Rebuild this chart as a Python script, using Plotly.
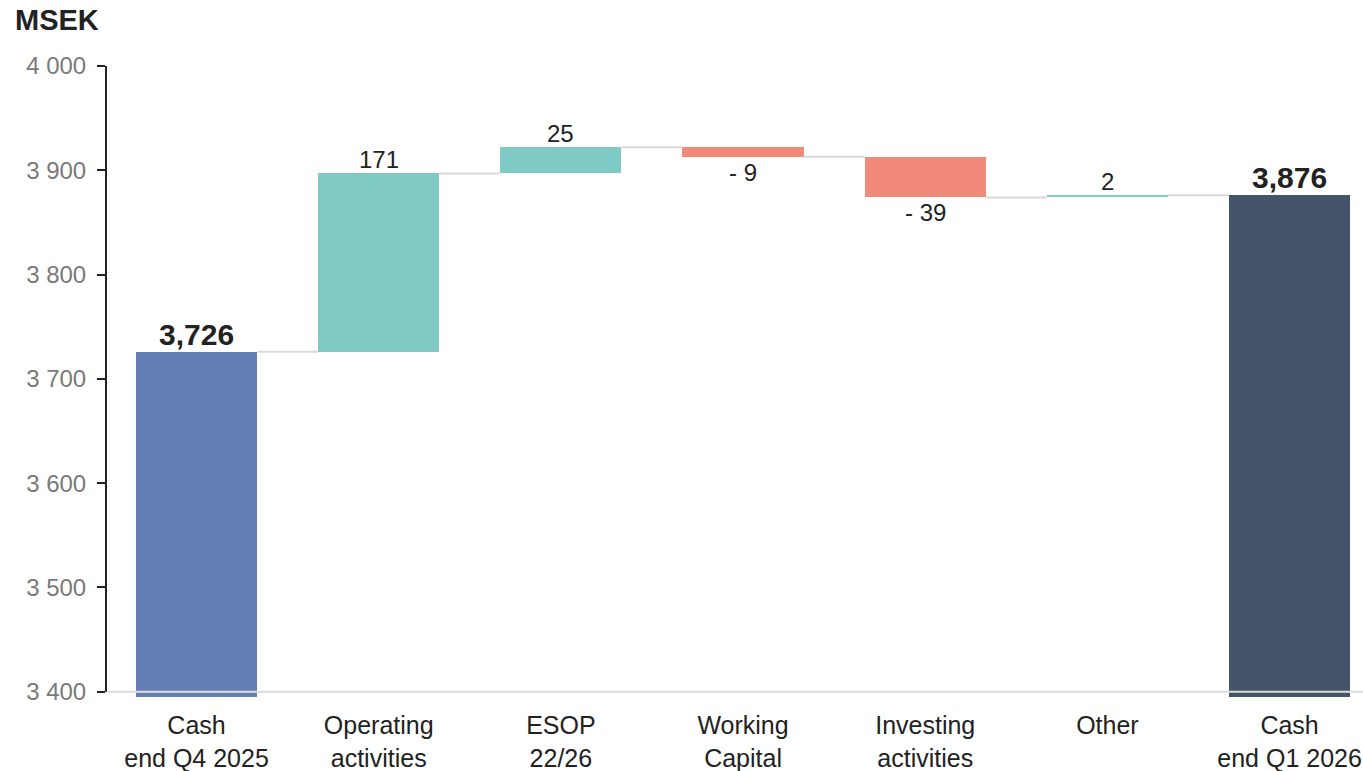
import plotly.graph_objects as go

categories = ["Cash<br>end Q4 2025", "Operating<br>activities", "ESOP<br>22/26",
              "Working<br>Capital", "Investing<br>activities", "Other", "Cash<br>end Q1 2026"]
start_value = 3726
changes = [171, 25, -9, -39, 2]
end_value = 3876
tick_values = [3400, 3500, 3600, 3700, 3800, 3900, 4000]
tick_labels = ["3 400", "3 500", "3 600", "3 700", "3 800", "3 900", "4 000"]

C_START = "#637EB5"
C_UP = "#7FCAC5"
C_DOWN = "#F28A7C"
C_END = "#44546B"
FONT = "Liberation Sans, Arial, sans-serif"
Y_MIN = 3395
BAR_W = 0.665

# Build bar bases / heights
bases, heights, colors = [], [], []
bases.append(Y_MIN); heights.append(start_value - Y_MIN); colors.append(C_START)
level = start_value
levels = [level]
for c in changes:
    lo = min(level, level + c)
    bases.append(lo); heights.append(abs(c)); colors.append(C_UP if c >= 0 else C_DOWN)
    level += c
    levels.append(level)
bases.append(Y_MIN); heights.append(end_value - Y_MIN); colors.append(C_END)
levels.append(end_value)

xs = list(range(len(categories)))
fig = go.Figure()

# connectors
for i in range(len(categories) - 1):
    lv = levels[i]
    fig.add_trace(go.Scatter(x=[i + BAR_W / 2, i + 1 - BAR_W / 2], y=[lv, lv], mode="lines",
                             line=dict(color="#DADADA", width=2), hoverinfo="skip",
                             showlegend=False))

fig.add_trace(go.Bar(x=xs, y=heights, base=bases, width=BAR_W,
                     marker=dict(color=colors, line=dict(width=0)),
                     showlegend=False, hoverinfo="skip"))

annotations = []
# totals labels
for i, v in [(0, start_value), (len(categories) - 1, end_value)]:
    annotations.append(dict(x=i, y=v, text=f"<b>{v:,}</b>", showarrow=False, yanchor="bottom",
                            yshift=-1, font=dict(family=FONT, size=30, color="#222222")))
# change labels
for k, c in enumerate(changes):
    i = k + 1
    b = bases[i]
    if c >= 0:
        annotations.append(dict(x=i, y=b + heights[i], text=f"{c}", showarrow=False, yanchor="bottom",
                                yshift=-2, font=dict(family=FONT, size=24, color="#222222")))
    else:
        annotations.append(dict(x=i, y=b, text=f"- {abs(c)}", showarrow=False, yanchor="top",
                                yshift=0, font=dict(family=FONT, size=24, color="#222222")))

PLOT_W = 1363 - 106
PLOT_H = 771 - 66 - 74
annotations.append(dict(xref="paper", yref="paper", x=(13 - 106) / PLOT_W, y=1 + 46 / PLOT_H,
                        text="<b>MSEK</b>", showarrow=False, xanchor="left", yanchor="middle",
                        font=dict(family=FONT, size=29, color="#222222")))

shapes = [
    dict(type="line", xref="paper", yref="y", x0=0, x1=1, y0=3400, y1=3400,
         line=dict(color="#DCDCDC", width=2), layer="above"),
    dict(type="line", xref="paper", yref="y", x0=0, x1=0, y0=3400, y1=4000,
         line=dict(color="#222222", width=2), layer="above"),
]

fig.update_layout(
    width=1363, height=771,
    margin=dict(l=106, r=0, t=66, b=74),
    plot_bgcolor="white", paper_bgcolor="white",
    annotations=annotations, shapes=shapes,
    bargap=0,
    xaxis=dict(range=[-0.497, 6.403], tickmode="array", tickvals=xs, ticktext=categories,
               showgrid=False, zeroline=False, showline=False, ticks="", automargin=False,
               ticklabelstandoff=11,
               tickfont=dict(family=FONT, size=25, color="#222222")),
    yaxis=dict(range=[Y_MIN, 4000], tickmode="array", tickvals=tick_values, ticktext=tick_labels,
               showgrid=False, zeroline=False, showline=False, ticks="outside", ticklen=8,
               tickwidth=2, tickcolor="#222222", ticklabelstandoff=6, automargin=False,
               tickfont=dict(family=FONT, size=24, color="#7A7A7A")),
)

fig.write_html("out.html", config={"displayModeBar": False},
               post_script="document.body.style.margin='0';document.body.style.overflow='hidden';")
